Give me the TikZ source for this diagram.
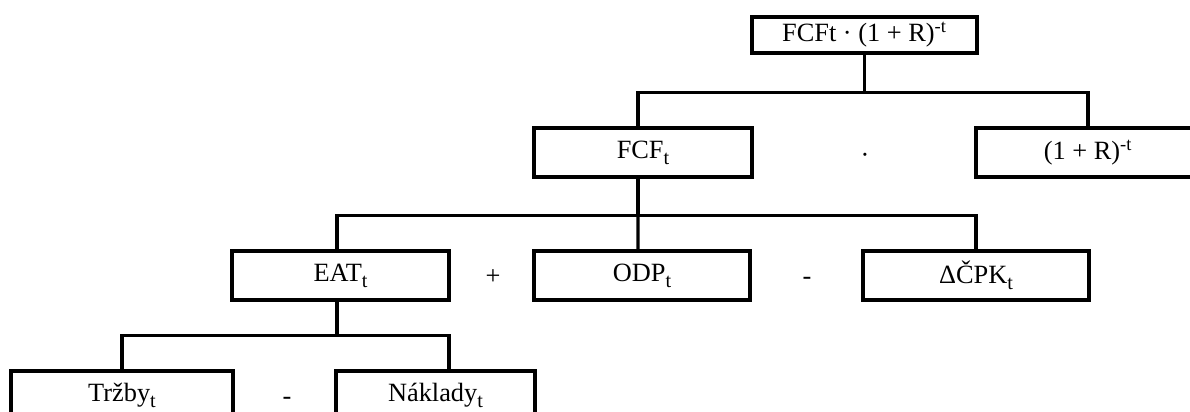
\documentclass[tikz,border=0pt]{standalone}
\usepackage{fontspec}
\setmainfont{Liberation Serif}
\usetikzlibrary{positioning, calc}

% lowered subscript t, as in the printed tree
\newcommand{\subt}{\raisebox{-0.5ex}{\fontsize{11.5}{12}\selectfont t}}

\begin{document}
\begin{tikzpicture}[
    x=0.02cm, y=-0.02cm,
    % Styling
    base font/.style={font=\fontsize{15}{17}\selectfont},
    tree box/.style={
        draw,
        base font,
        line width=1.9pt,
        minimum width=4.36cm,
        minimum height=0.98cm,
        inner sep=2pt
    },
    % Style for the root (flatter box)
    root box/.style={
        tree box,
        minimum width=4.5cm,
        minimum height=0.72cm
    },
    op text/.style={base font},
    tree line/.style={line width=1.9pt}
]
\clip (0,0) rectangle (1190,412);

% --- Root ---
\node[root box] (root) at (864.5,35) {FCFt · (1 + R)\textsuperscript{-t}};

% --- Level 1 ---
\node[tree box] (fcf) at (643,152.5) {FCF\subt};
\node[op text] (dot) at (865,158) {·};
\node[tree box, minimum width=4.48cm] (disc) at (1088,152.5) {(1 + R)\textsuperscript{-t}};

% --- Level 2 ---
\node[tree box, minimum width=4.34cm] (eat) at (340.5,275.5) {EAT\subt};
\node[op text] (plus) at (493,277) {+};
\node[tree box, minimum width=4.32cm] (odp) at (642,275.5) {ODP\subt};
\node[op text] (minusA) at (807,281) {-};
\node[tree box, minimum width=4.52cm] (cpk) at (976,275.5) {ΔČPK\subt};

% --- Level 3 ---
\node[tree box, minimum width=4.44cm] (trzby) at (122,395.5) {Tržby\subt};
\node[op text] (minusB) at (287,401) {-};
\node[tree box, minimum width=3.98cm] (nakl) at (435.5,395.5) {Náklady\subt};

% --- Connectors ---
\draw[tree line] (root.south) -- ++(0,38) coordinate (j1);
\draw[tree line] ([xshift=-0.1cm]fcf.north) |- (j1) -| (disc.north);

\draw[tree line] ([xshift=-0.1cm]fcf.south) -- ++(0,37) coordinate (j2);
\draw[tree line] ([xshift=-0.07cm]eat.north) |- (j2) -| (cpk.north);
\draw[tree line] (j2) -- ([xshift=-0.08cm]odp.north);

\draw[tree line] ([xshift=-0.07cm]eat.south) -- ++(0,34) coordinate (j3);
\draw[tree line] (trzby.north) |- (j3) -| ([xshift=0.27cm]nakl.north);

\end{tikzpicture}
\end{document}
